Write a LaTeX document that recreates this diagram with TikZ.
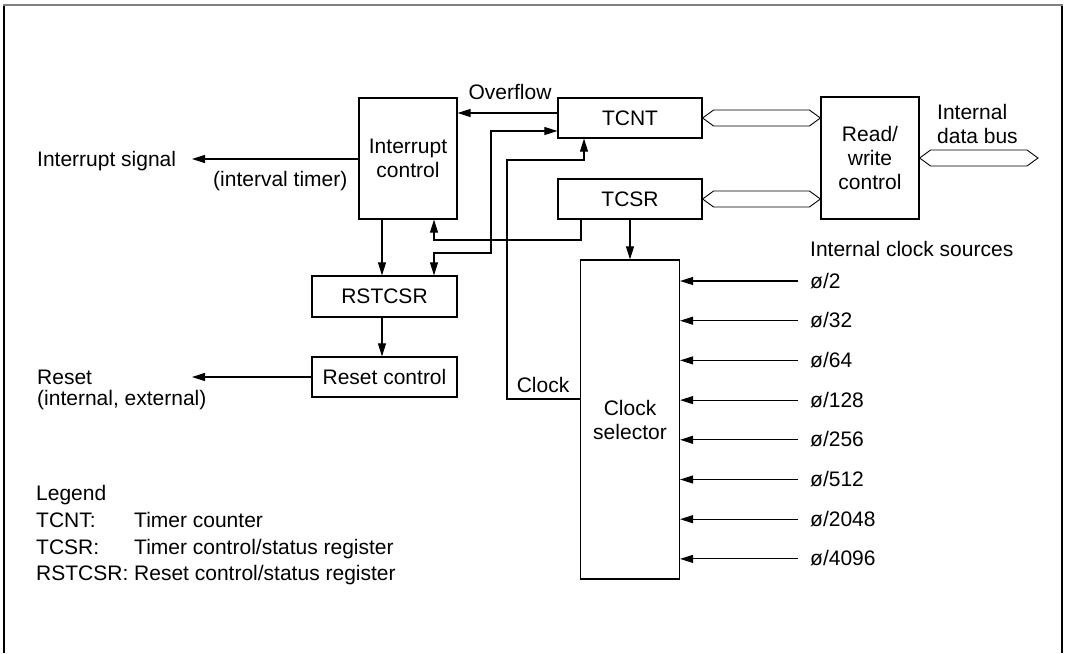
\documentclass[tikz,border=0pt]{standalone}
\usepackage{fontspec}
\setmainfont{Liberation Sans}
\usetikzlibrary{arrows.meta,calc}
% hexagonal bus arrow between two points
\newcommand{\busline}[2]{\draw[bus] (#1) -- ++(11,-8) -- ($(#2)+(-11,-8)$) -- (#2) -- ($(#2)+(-11,8)$) -- ($(#1)+(11,8)$) -- cycle;}
\begin{document}
\begin{tikzpicture}[x=1pt,y=-1pt]
  \tikzset{blk/.style={draw,rectangle,line width=1.2pt,inner sep=0pt,align=center,font=\fontsize{21}{24}\selectfont},
    txt/.style={inner sep=0pt,anchor=west,align=left,text height=16pt,text depth=2pt,font=\fontsize{21}{24}\selectfont},
    arr/.style={line width=1.1pt,-{Triangle[length=13pt,width=8pt]}},
    arrboth/.style={line width=1.1pt,{Triangle[length=13pt,width=8pt]}-{Triangle[length=13pt,width=8pt]}},
    bus/.style={draw,line width=0.9pt,line join=miter}}
  \useasboundingbox (0,0) rectangle (1065,653);
  % frame
  \draw[line width=1.2pt] (4,653) -- (4,5) -- (1062,5) -- (1062,653);
  \draw[line width=2.5pt,gray] (3,5) -- (1063,5);
  % blocks
  \node[blk,minimum width=98pt,minimum height=121pt] (intc) at (408,158.5) {Interrupt\\control};
  \node[blk,minimum width=144pt,minimum height=40pt] (tcnt) at (630,118) {TCNT};
  \node[blk,minimum width=144pt,minimum height=40pt] (tcsr) at (630,199) {TCSR};
  \node[blk,minimum width=98pt,minimum height=122pt] (rw) at (870,158) {Read/\\write\\control};
  \node[blk,minimum width=99pt,minimum height=319pt] (clk) at (630,419.5) {Clock\\selector};
  \node[blk,minimum width=145pt,minimum height=41pt] (rstcsr) at (384.5,296.5) {RSTCSR};
  \node[blk,minimum width=145pt,minimum height=40pt] (rstctl) at (384.5,377) {Reset control};
  % labels
  \node[txt] (isig) at (37,159) {Interrupt signal};
  \node[txt] (ivt) at (213,179) {(interval timer)};
  \node[txt] (rst) at (37,377) {Reset};
  \node[txt] (rstie) at (37,398) {(internal, external)};
  \node (ovf) at (510,92) [txt,anchor=center] {Overflow};
  \node (clkl) at (543,385) [txt,anchor=center] {Clock};
  \node[txt] (idb) at (937,136) {Internal\\data bus};
  \node[txt] (ics) at (810,249) {Internal clock sources};
  \node[txt] (lg) at (36,493) {Legend};
  \node[txt] (lg1) at (36,520) {TCNT:};
  \node[txt] (lg2) at (36,547) {TCSR:};
  \node[txt] (lg3) at (36,573) {RSTCSR:};
  \node[txt] (lg1d) at (134,520) {Timer counter};
  \node[txt] (lg2d) at (134,547) {Timer control/status register};
  \node[txt] (lg3d) at (134,573) {Reset control/status register};
  % free ends and bends
  \coordinate (isigend) at (192,159);
  \coordinate (rstend) at (192,377);
  \coordinate (ovfl) at (0,113);
  \coordinate (j1) at (491,131);
  \coordinate (j2) at (434,253);
  \coordinate (c1) at (584,160);
  \coordinate (c2) at (507,399);
  \coordinate (t1) at (581,240);
  \coordinate (t2) at (434,240);
  \coordinate (r1) at (382,0);
  \coordinate (bA) at (rw.west |- tcnt.east);
  \coordinate (bB) at (rw.west |- tcsr.east);
  \coordinate (dbus) at (1038,158);
  % connectors
  \draw[arr] (intc.west |- isigend) -- (isigend);
  \draw[arr] (rstctl.west) -- (rstend);
  \draw[arr] (tcnt.west |- ovfl) -- (intc.east |- ovfl);
  \draw[arrboth] (j2 |- rstcsr.north) -- (j2) -- (j2 -| j1) -- (j1) -- (tcnt.west |- j1);
  \draw[arr] (c2 -| clk.west) -- (c2) -- (c2 |- c1) -- (c1) -- (c1 |- tcnt.south);
  \draw[arr] (t1 |- tcsr.south) -- (t1) -- (t2) -- (t2 |- intc.south);
  \draw[arr] (tcsr.south) -- (clk.north);
  \draw[arr] (intc.south -| r1) -- (rstcsr.north -| r1);
  \draw[arr] (rstcsr.south -| r1) -- (rstctl.north -| r1);
  % buses
  \busline{tcnt.east}{bA}
  \busline{tcsr.east}{bB}
  \busline{rw.east}{dbus}
  % clock sources
  \foreach \lbl [count=\i] in {2,32,64,128,256,512,2048,4096} {
    \coordinate (s\i) at (798,{281+(\i-1)*39.7});
    \node[txt] (src\i) at (810,{281+(\i-1)*39.7}) {ø/\lbl};
    \draw[arr] (s\i) -- (s\i -| clk.east);
  }
\end{tikzpicture}
\end{document}
